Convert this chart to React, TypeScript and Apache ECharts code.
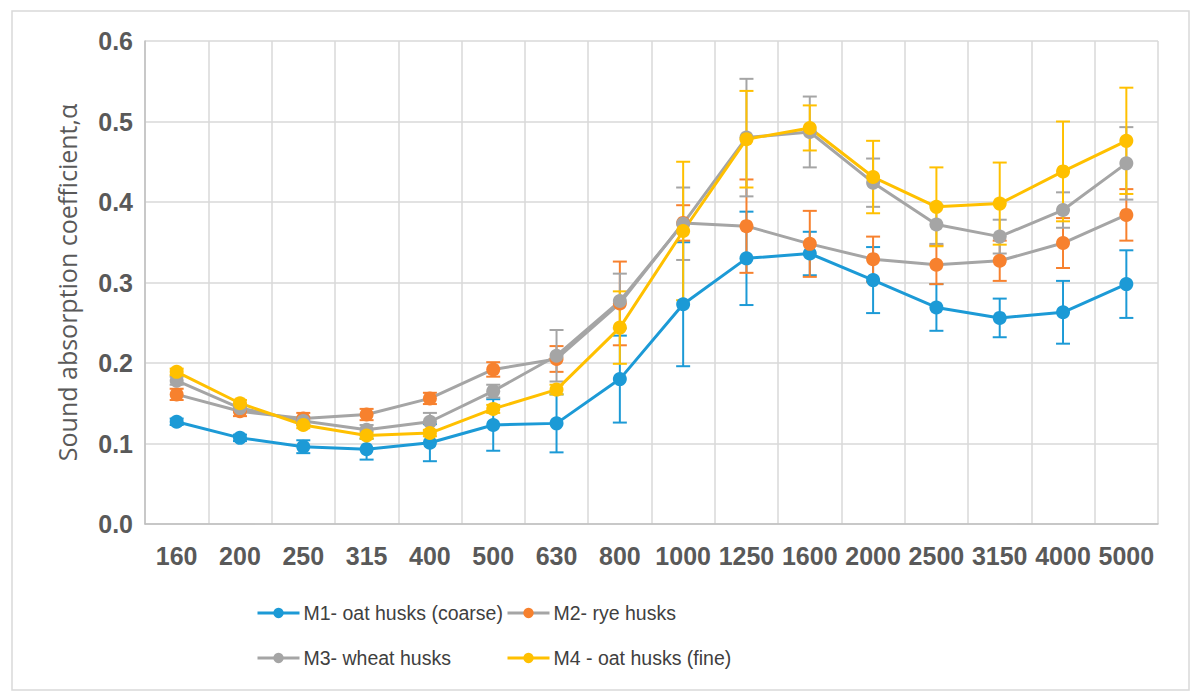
import React, { useEffect, useRef } from "react";
import * as echarts from "echarts";

const categories = ["160", "200", "250", "315", "400", "500", "630", "800", "1000", "1250", "1600", "2000", "2500", "3150", "4000", "5000"];

const seriesNames = ["M1- oat husks (coarse)", "M2- rye husks", "M3- wheat husks", "M4 - oat husks (fine)"];

const m1Values = [0.127, 0.107, 0.096, 0.093, 0.101, 0.123, 0.125, 0.180, 0.273, 0.330, 0.336, 0.303, 0.269, 0.256, 0.263, 0.298];
const m1Errors = [0.004, 0.004, 0.008, 0.013, 0.023, 0.032, 0.036, 0.054, 0.077, 0.058, 0.027, 0.041, 0.029, 0.024, 0.039, 0.042];

const m2Values = [0.161, 0.140, 0.131, 0.136, 0.156, 0.192, 0.205, 0.274, 0.374, 0.370, 0.348, 0.329, 0.322, 0.327, 0.349, 0.384];
const m2Errors = [0.007, 0.006, 0.007, 0.007, 0.007, 0.009, 0.016, 0.052, 0.022, 0.058, 0.041, 0.028, 0.024, 0.025, 0.031, 0.032];

const m3Values = [0.178, 0.144, 0.128, 0.117, 0.127, 0.165, 0.209, 0.277, 0.373, 0.480, 0.487, 0.424, 0.372, 0.357, 0.390, 0.448];
const m3Errors = [0.005, 0.005, 0.005, 0.006, 0.011, 0.008, 0.032, 0.034, 0.045, 0.073, 0.044, 0.030, 0.024, 0.021, 0.022, 0.045];

const m4Values = [0.189, 0.150, 0.123, 0.110, 0.113, 0.143, 0.167, 0.244, 0.364, 0.478, 0.492, 0.431, 0.394, 0.398, 0.438, 0.476];
const m4Errors = [0.004, 0.004, 0.004, 0.004, 0.004, 0.005, 0.006, 0.045, 0.086, 0.060, 0.028, 0.045, 0.049, 0.051, 0.062, 0.066];

const yTicks = [0, 0.1, 0.2, 0.3, 0.4, 0.5, 0.6];

const markerColors = ["#1C9AD6", "#F7812E", "#A5A5A5", "#FFC000"];
const lineColors = ["#1C9AD6", "#A5A5A5", "#A5A5A5", "#FFC000"];

const FONT = "'Liberation Sans', Arial, sans-serif";
const TITLE_FONT = "'Open Sans', 'Liberation Sans', sans-serif";

function errorSeries(name: string, values: number[], errors: number[], color: string) {
  return {
    type: "custom",
    name: name + " error",
    encode: { x: 0, y: [1, 2] },
    data: values.map((v, i) => [i, v - errors[i], v + errors[i]]),
    renderItem: (params: any, api: any) => {
      const x = api.value(0);
      const lo = api.coord([x, api.value(1)]);
      const hi = api.coord([x, api.value(2)]);
      const hw = 7;
      const style = { stroke: color, lineWidth: 2 };
      return {
        type: "group",
        children: [
          { type: "line", shape: { x1: lo[0], y1: lo[1], x2: hi[0], y2: hi[1] }, style },
          { type: "line", shape: { x1: lo[0] - hw, y1: lo[1], x2: lo[0] + hw, y2: lo[1] }, style },
          { type: "line", shape: { x1: hi[0] - hw, y1: hi[1], x2: hi[0] + hw, y2: hi[1] }, style },
        ],
      };
    },
    silent: true,
    tooltip: { show: false },
  };
}

function lineSeries(name: string, values: number[], idx: number) {
  return {
    type: "line",
    name,
    data: values,
    symbol: "circle",
    symbolSize: 14,
    showSymbol: true,
    lineStyle: { color: lineColors[idx], width: 3 },
    itemStyle: { color: markerColors[idx], borderWidth: 0 },
  };
}

export default function App() {
  const ref = useRef<HTMLDivElement>(null);

  useEffect(() => {
    if (!ref.current) return;
    const chart = echarts.init(ref.current, undefined, { renderer: "svg" });
    const allValues = [m1Values, m2Values, m3Values, m4Values];
    const allErrors = [m1Errors, m2Errors, m3Errors, m4Errors];
    const series: any[] = [];
    for (let i = 0; i < 4; i++) {
      series.push(errorSeries(seriesNames[i], allValues[i], allErrors[i], markerColors[i]));
      series.push(lineSeries(seriesNames[i], allValues[i], i));
    }
    const legendPos = [
      { left: 256, top: 603 },
      { left: 506, top: 603 },
      { left: 256, top: 648 },
      { left: 506, top: 648 },
    ];
    const legends = seriesNames.map((n, i) => ({
      data: [n],
      left: legendPos[i].left,
      top: legendPos[i].top,
      padding: 0,
      itemWidth: 42,
      itemHeight: 13,
      itemGap: 0,
      selectedMode: false,
      lineStyle: { width: 3 },
      textStyle: { fontSize: 19.5, color: "#404040", fontFamily: FONT, padding: [0, 0, 0, -1] },
    }));

    chart.setOption({
      animation: false,
      backgroundColor: "#ffffff",
      textStyle: { fontFamily: FONT },
      grid: { left: 145, right: 42, top: 41, bottom: 176, containLabel: false },
      legend: legends,
      xAxis: {
        type: "category",
        data: categories,
        boundaryGap: true,
        axisLine: { show: true, lineStyle: { color: "#BFBFBF", width: 1.5 } },
        axisTick: { show: false },
        axisLabel: { fontSize: 25, fontWeight: "bold", color: "#595959", margin: 19, interval: 0, fontFamily: FONT },
        splitLine: { show: true, interval: 0, lineStyle: { color: "#D9D9D9", width: 1.5 } },
      },
      yAxis: {
        type: "value",
        min: yTicks[0],
        max: yTicks[yTicks.length - 1],
        interval: 0.1,
        name: "Sound absorption coefficient,α",
        nameLocation: "middle",
        nameGap: 66,
        nameTextStyle: { fontSize: 25, color: "#595959", fontFamily: TITLE_FONT },
        axisLine: { show: true, lineStyle: { color: "#BFBFBF", width: 1.5 } },
        axisTick: { show: false },
        axisLabel: {
          fontSize: 25,
          fontWeight: "bold",
          color: "#595959",
          margin: 12,
          fontFamily: FONT,
          formatter: (v: number) => v.toFixed(1),
        },
        splitLine: { show: true, lineStyle: { color: "#D9D9D9", width: 1.5 } },
      },
      graphic: [
        {
          type: "rect",
          shape: { x: 12, y: 11, width: 1177, height: 679 },
          style: { fill: "none", stroke: "#D9D9D9", lineWidth: 1.5 },
          silent: true,
          z: -10,
        },
      ],
      series,
    });
    return () => chart.dispose();
  }, []);

  return <div ref={ref} style={{ width: 1200, height: 700, position: "absolute", left: 0, top: 0 }} />;
}
